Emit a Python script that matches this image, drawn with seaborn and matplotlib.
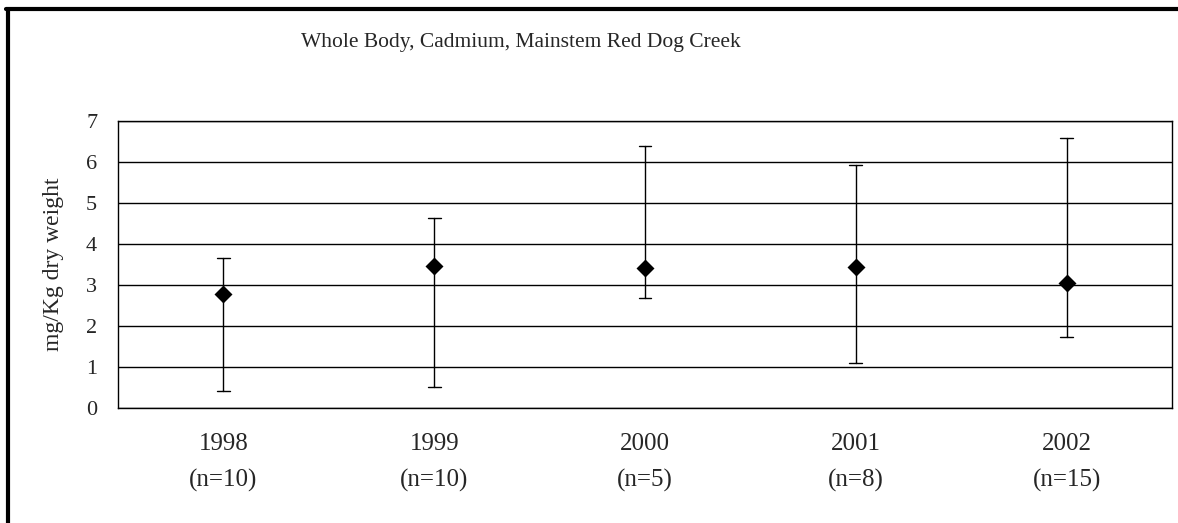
import pandas as pd
import matplotlib.pyplot as plt
import seaborn as sns
from matplotlib.lines import Line2D

# Datos (media, minimo y maximo por año)
years = ['1998', '1999', '2000', '2001', '2002']
n_samples = [10, 10, 5, 8, 15]
means = [2.77, 3.46, 3.41, 3.43, 3.06]
lows = [0.41, 0.52, 2.68, 1.09, 1.72]
highs = [3.65, 4.63, 6.40, 5.93, 6.58]

labels = [f'{y}\n(n={n})' for y, n in zip(years, n_samples)]

# Tabla larga: la mediana de (min, media, max) es la media, pi 100 da el rango
rows = []
for lab, lo, m, hi in zip(labels, lows, means, highs):
    for v in (lo, m, hi):
        rows.append({'year': lab, 'value': v})
data = pd.DataFrame(rows)

sns.set_style('white')
plt.rcParams['font.family'] = ['Liberation Serif', 'DejaVu Serif']

fig = plt.figure(figsize=(11.78, 5.23), dpi=100)
ax = fig.add_axes([0.1002, 0.2199, 0.8947, 0.5487])

sns.pointplot(
    data=data, x='year', y='value', order=labels,
    estimator='median', errorbar=('pi', 100),
    color='black', markers='D', linestyles='none',
    capsize=0.06, err_kws={'linewidth': 1.0},
    markersize=7, ax=ax
)

ax.set_xlim(-0.5, 4.5)
ax.set_ylim(0, 7)
ax.set_yticks(range(0, 8))
ax.yaxis.grid(True, color='black', linewidth=1.0)
ax.set_axisbelow(True)
for s in ax.spines.values():
    s.set_color('black')
    s.set_linewidth(1.0)

ax.set_xlabel('')
ax.set_ylabel('mg/Kg dry weight', fontsize=17, labelpad=16)
ax.tick_params(axis='y', length=0, pad=15, labelsize=16)
ax.tick_params(axis='x', length=0, pad=18, labelsize=18)
for t in ax.get_xticklabels():
    t.set_linespacing(1.8)

# Titulo desplazado a la izquierda como en el original
fig.text(0.442, 0.918, 'Whole Body, Cadmium, Mainstem Red Dog Creek',
         ha='center', va='center', fontsize=15.5)

# Marco exterior (solo arriba e izquierda visibles)
fig.add_artist(Line2D([0.0055, 1.0], [0.983, 0.983], color='black', linewidth=3,
                      transform=fig.transFigure))
fig.add_artist(Line2D([0.0068, 0.0068], [0.0, 0.983], color='black', linewidth=3,
                      transform=fig.transFigure))

fig.savefig('out.png', dpi=100)
